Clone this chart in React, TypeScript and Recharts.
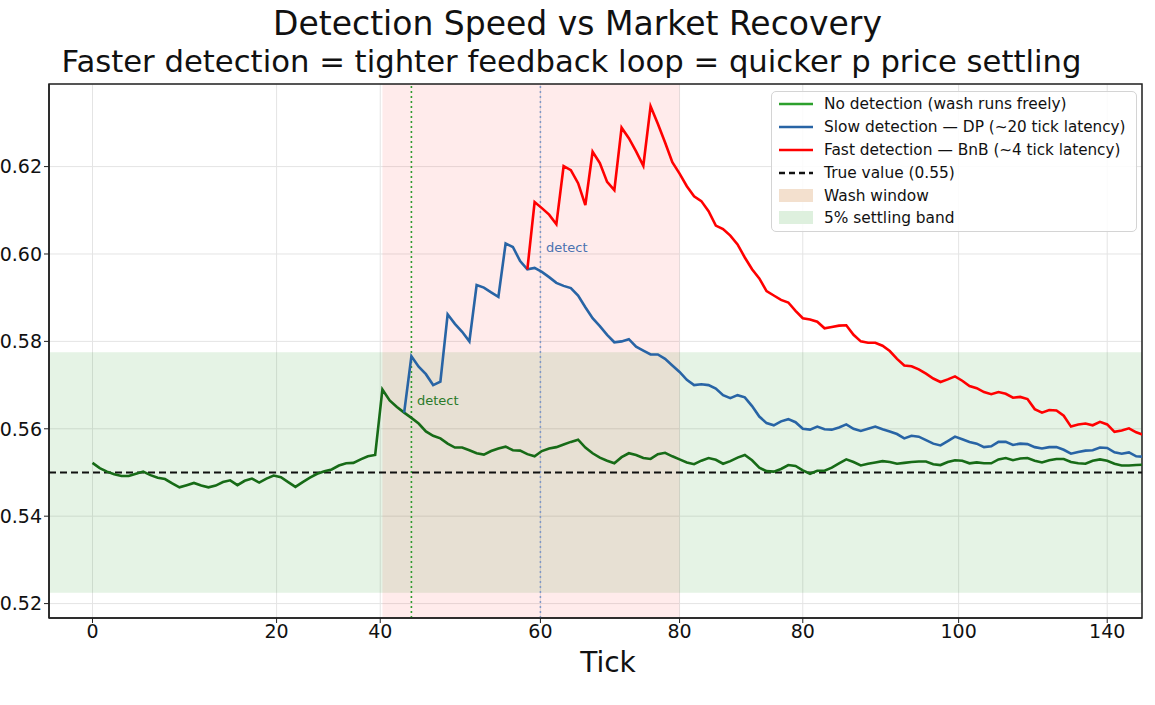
import React from "react";
import {
  ComposedChart, Line, XAxis, YAxis, CartesianGrid, ReferenceLine, ReferenceArea, ReferenceDot,
} from "recharts";

// price per tick, no detection at all
const noDetection = [
  0.5522, 0.5510, 0.5502, 0.5496, 0.5492, 0.5492, 0.5497, 0.5502, 0.5494, 0.5488,
  0.5485, 0.5475, 0.5466, 0.5471, 0.5476, 0.5470, 0.5466, 0.5470, 0.5478, 0.5482,
  0.5471, 0.5481, 0.5486, 0.5477, 0.5486, 0.5493, 0.5489, 0.5478, 0.5467, 0.5478,
  0.5488, 0.5497, 0.5503, 0.5507, 0.5516, 0.5521, 0.5522, 0.5530, 0.5537, 0.5540,
  0.5690, 0.5665, 0.5650, 0.5637, 0.5625, 0.5612, 0.5594, 0.5584, 0.5578, 0.5566,
  0.5557, 0.5557, 0.5551, 0.5544, 0.5541, 0.5549, 0.5555, 0.5559, 0.5551, 0.5550,
  0.5542, 0.5537, 0.5549, 0.5555, 0.5558, 0.5564, 0.5570, 0.5575, 0.5557, 0.5544,
  0.5534, 0.5527, 0.5521, 0.5535, 0.5544, 0.5540, 0.5533, 0.5531, 0.5542, 0.5545,
  0.5537, 0.5530, 0.5523, 0.5519, 0.5527, 0.5533, 0.5529, 0.5520, 0.5526, 0.5534,
  0.5540, 0.5528, 0.5511, 0.5503, 0.5502, 0.5508, 0.5517, 0.5515, 0.5505, 0.5497,
  0.5504, 0.5504, 0.5511, 0.5521, 0.5530, 0.5524, 0.5516, 0.5520, 0.5523, 0.5526,
  0.5524, 0.5520, 0.5522, 0.5524, 0.5525, 0.5525, 0.5519, 0.5517, 0.5524, 0.5528,
  0.5527, 0.5521, 0.5523, 0.5521, 0.5521, 0.5530, 0.5533, 0.5528, 0.5532, 0.5533,
  0.5527, 0.5523, 0.5528, 0.5531, 0.5531, 0.5524, 0.5521, 0.5520, 0.5527, 0.5530,
  0.5527, 0.5520, 0.5516, 0.5516, 0.5517, 0.5518,
];

// slow detector (DP) branches off at tick 43
const SLOW_FROM = 43;
const slowDetection = [
  0.5637, 0.5766, 0.5742, 0.5725, 0.5700, 0.5708, 0.5862,
  0.5840, 0.5822, 0.5800, 0.5929, 0.5923, 0.5912, 0.5902, 0.6024, 0.6016, 0.5984,
  0.5965, 0.5968, 0.5959, 0.5947, 0.5934, 0.5927, 0.5922, 0.5905, 0.5878, 0.5853,
  0.5835, 0.5815, 0.5798, 0.5800, 0.5805, 0.5788, 0.5779, 0.5770, 0.5770, 0.5760,
  0.5745, 0.5730, 0.5712, 0.5700, 0.5702, 0.5700, 0.5692, 0.5677, 0.5670, 0.5677,
  0.5672, 0.5652, 0.5628, 0.5613, 0.5608, 0.5617, 0.5622, 0.5615, 0.5600, 0.5598,
  0.5605, 0.5599, 0.5598, 0.5603, 0.5610, 0.5600, 0.5595, 0.5600, 0.5605, 0.5599,
  0.5594, 0.5588, 0.5578, 0.5584, 0.5582, 0.5574, 0.5566, 0.5562, 0.5572, 0.5582,
  0.5576, 0.5570, 0.5566, 0.5558, 0.5560, 0.5570, 0.5570, 0.5563, 0.5566, 0.5565,
  0.5558, 0.5555, 0.5558, 0.5558, 0.5552, 0.5543, 0.5547, 0.5550, 0.5551, 0.5557,
  0.5556, 0.5546, 0.5543, 0.5546, 0.5537, 0.5536,
];

// fast detector (BnB) branches off at tick 60
const FAST_FROM = 60;
const fastDetection = [
  0.5965, 0.6119, 0.6105, 0.6090, 0.6068, 0.6201, 0.6192, 0.6162, 0.6112, 0.6234,
  0.6208, 0.6165, 0.6146, 0.6289, 0.6265, 0.6235, 0.6202, 0.6338, 0.6298, 0.6255,
  0.6210, 0.6184, 0.6155, 0.6132, 0.6121, 0.6098, 0.6065, 0.6057, 0.6042, 0.6022,
  0.5992, 0.5965, 0.5944, 0.5915, 0.5905, 0.5895, 0.5889, 0.5870, 0.5853, 0.5850,
  0.5845, 0.5830, 0.5833, 0.5836, 0.5837, 0.5815, 0.5800, 0.5797, 0.5797, 0.5790,
  0.5778, 0.5760, 0.5745, 0.5743, 0.5736, 0.5726, 0.5715, 0.5707, 0.5713, 0.5720,
  0.5710, 0.5698, 0.5693, 0.5684, 0.5679, 0.5684, 0.5680, 0.5671, 0.5673, 0.5668,
  0.5645, 0.5637, 0.5643, 0.5642, 0.5630, 0.5605, 0.5610, 0.5612, 0.5608, 0.5616,
  0.5610, 0.5593, 0.5596, 0.5601, 0.5592, 0.5586,
];

const TRUE_VALUE = 0.55;
const settlingBand = [0.5225, 0.5775];
const washWindow = [40, 81];
const detectFast = 44;
const detectSlow = 61.8;

const xTickPos = [0, 25.4, 39.7, 61.8, 81, 98, 119.5, 140];
const xTickLabels = ["0", "20", "40", "60", "80", "80", "100", "140"];
const yTicks = [0.52, 0.54, 0.56, 0.58, 0.6, 0.62];

const X_DOMAIN: [number, number] = [-6, 144.8];
const Y_DOMAIN: [number, number] = [0.5167, 0.6389];

const rows = noDetection.map((v, t) => ({
  tick: t,
  none: v,
  slow: t >= SLOW_FROM ? slowDetection[t - SLOW_FROM] : null,
  fast: t >= FAST_FROM ? fastDetection[t - FAST_FROM] : null,
}));

const FONT = "'DejaVu Sans', sans-serif";
const GREEN = "#176b17";
const BLUE = "#2864a5";
const RED = "#ff0000";

const legendItems = [
  { kind: "line", color: "#2ca02c", text: "No detection (wash runs freely)" },
  { kind: "line", color: BLUE, text: "Slow detection — DP", note: "(~20 tick latency)" },
  { kind: "line", color: RED, text: "Fast detection — BnB", note: "(~4 tick latency)" },
  { kind: "dash", color: "#111", text: "True value (0.55)" },
  { kind: "patch", color: "#f3e0ce", text: "Wash window" },
  { kind: "patch", color: "#def0de", text: "5% settling band" },
];

function LegendBox() {
  return (
    <div
      style={{
        position: "absolute", left: 771, top: 91, width: 366, height: 141,
        border: "1px solid #d4d4d4", borderRadius: 5, background: "rgba(255,255,255,0.85)",
        boxSizing: "border-box", fontFamily: FONT, color: "#111",
      }}
    >
      {legendItems.map((it, i) => (
        <div
          key={it.text}
          style={{
            position: "absolute", left: 0, top: 1 + i * 22.8, height: 22.8, width: "100%",
            display: "flex", alignItems: "center",
          }}
        >
          <svg width={36} height={16} style={{ marginLeft: 6, marginRight: 10 }}>
            {it.kind === "patch" ? (
              <rect x={1} y={1} width={34} height={13} fill={it.color} />
            ) : (
              <line
                x1={1} x2={35} y1={8} y2={8} stroke={it.color} strokeWidth={2.5}
                strokeDasharray={it.kind === "dash" ? "6 4" : undefined}
              />
            )}
          </svg>
          <span style={{ fontSize: 15.4, whiteSpace: "nowrap" }}>
            {it.text}
            {it.note ? <span style={{ fontSize: 15.2 }}> {it.note}</span> : null}
          </span>
        </div>
      ))}
    </div>
  );
}

export default function App() {
  return (
    <div style={{ position: "absolute", left: 0, top: 0, width: 1155, height: 705, background: "#fff" }}>
      <div style={{ position: "absolute", top: 4, width: 1155, textAlign: "center", fontFamily: FONT, fontSize: 33, lineHeight: "40px", color: "#111" }}>
        Detection Speed vs Market Recovery
      </div>
      <div style={{ position: "absolute", top: 42, width: 1155, textAlign: "center", fontFamily: FONT, fontSize: 30.7, lineHeight: "40px", color: "#111", paddingRight: 12, boxSizing: "border-box" }}>
        Faster detection = tighter feedback loop = quicker p price settling
      </div>

      <ComposedChart
        width={1155}
        height={705}
        data={rows}
        margin={{ top: 84, right: 13, bottom: 57, left: 0 }}
        style={{ fontFamily: FONT }}
      >
        <CartesianGrid stroke="#e4e4e4" strokeWidth={1} />
        <ReferenceArea y1={settlingBand[0]} y2={settlingBand[1]} x1={X_DOMAIN[0]} x2={X_DOMAIN[1]} fill="#2ca02c" fillOpacity={0.12} stroke="none" />
        <ReferenceArea x1={washWindow[0]} x2={washWindow[1]} y1={Y_DOMAIN[0]} y2={Y_DOMAIN[1]} fill="#ff0000" fillOpacity={0.08} stroke="none" />
        <XAxis
          dataKey="tick"
          type="number"
          domain={X_DOMAIN}
          allowDataOverflow
          ticks={xTickPos}
          interval={0}
          tickFormatter={(v: number) => xTickLabels[xTickPos.indexOf(v)] ?? String(v)}
          tick={{ fontSize: 19, fill: "#111" }}
          tickSize={5}
          tickLine={{ stroke: "#222" }}
          axisLine={{ stroke: "#222", strokeWidth: 1.5 }}
          height={30}
        />
        <YAxis
          type="number"
          domain={Y_DOMAIN}
          allowDataOverflow
          ticks={yTicks}
          interval={0}
          tickFormatter={(v: number) => v.toFixed(2)}
          tick={{ fontSize: 19, fill: "#111" }}
          tickSize={5}
          tickLine={{ stroke: "#222" }}
          axisLine={{ stroke: "#222", strokeWidth: 1.5 }}
          width={49}
        />
        <ReferenceLine x={detectFast} stroke="#2f9a2f" strokeWidth={1.6} strokeDasharray="2 3" />
        <ReferenceLine x={detectSlow} stroke="#7f98c8" strokeWidth={1.5} strokeDasharray="2 3" />
        <ReferenceLine y={TRUE_VALUE} stroke="#111" strokeWidth={1.8} strokeDasharray="7 4" />
        <Line dataKey="none" stroke={GREEN} strokeWidth={2.6} dot={false} activeDot={false} isAnimationActive={false} />
        <Line dataKey="slow" stroke={BLUE} strokeWidth={2.6} dot={false} activeDot={false} isAnimationActive={false} />
        <Line dataKey="fast" stroke={RED} strokeWidth={2.6} dot={false} activeDot={false} isAnimationActive={false} />
        <ReferenceDot x={detectFast} y={0.5666} r={0.5} fill="none" stroke="none"
          label={{ value: "detect", position: "right", fill: "#2a7a2a", fontSize: 13 }} />
        <ReferenceDot x={detectSlow} y={0.6016} r={0.5} fill="none" stroke="none"
          label={{ value: "detect", position: "right", fill: "#4a72b0", fontSize: 13 }} />
        <ReferenceArea x1={X_DOMAIN[0]} x2={X_DOMAIN[1]} y1={Y_DOMAIN[0]} y2={Y_DOMAIN[1]} fill="none" stroke="#222" strokeWidth={1.5} />
      </ComposedChart>

      <div style={{ position: "absolute", left: 608, top: 645, transform: "translateX(-50%)", fontFamily: FONT, fontSize: 28, lineHeight: "36px", color: "#111" }}>
        Tick
      </div>
      <LegendBox />
    </div>
  );
}
